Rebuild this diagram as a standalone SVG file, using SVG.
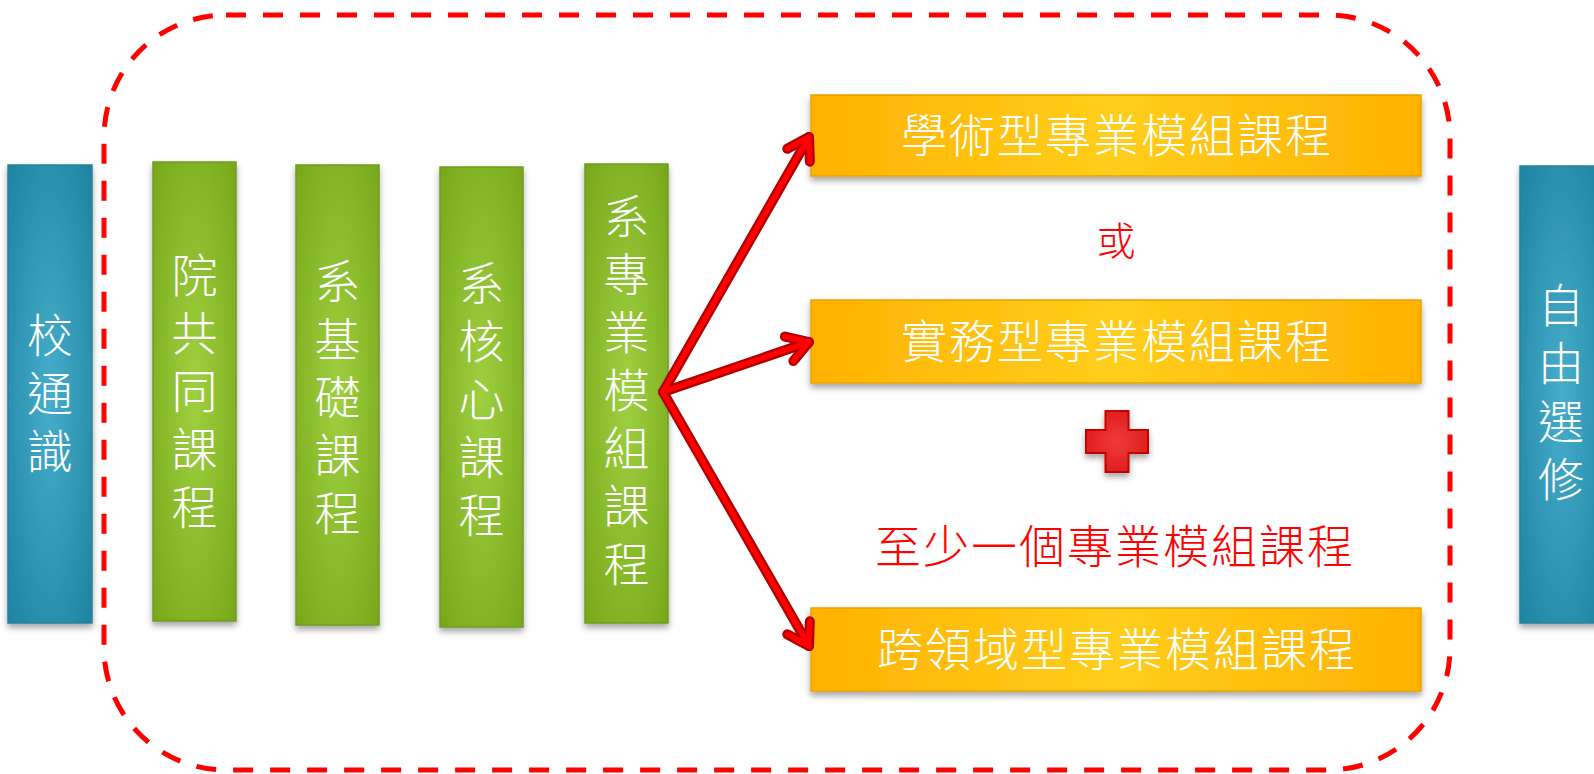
<svg xmlns="http://www.w3.org/2000/svg" width="1594" height="774" viewBox="0 0 1594 774">
<defs>
<radialGradient id="gBlue" cx="0.5" cy="0.5" r="0.7">
<stop offset="0" stop-color="#46ADCC"/><stop offset="1" stop-color="#1D84A1"/>
</radialGradient>
<radialGradient id="gGreen" cx="0.5" cy="0.5" r="0.7">
<stop offset="0" stop-color="#9ED040"/><stop offset="1" stop-color="#77A81A"/>
</radialGradient>
<linearGradient id="gOrange" x1="0" y1="0" x2="1" y2="0">
<stop offset="0" stop-color="#FFB200"/><stop offset="0.5" stop-color="#FFCE1C"/><stop offset="1" stop-color="#FFB200"/>
</linearGradient>
<radialGradient id="gRed" cx="0.5" cy="0.5" r="0.6">
<stop offset="0" stop-color="#F23A3A"/><stop offset="1" stop-color="#DA1A1A"/>
</radialGradient>
<filter id="sh" x="-20%" y="-20%" width="140%" height="140%">
<feDropShadow dx="0" dy="4" stdDeviation="3" flood-color="#000" flood-opacity="0.35"/>
</filter>
<marker id="headDark" markerUnits="userSpaceOnUse" markerWidth="44" markerHeight="44" refX="26" refY="22" orient="auto" overflow="visible">
<path d="M5,9 L26,22 L5,35" fill="none" stroke="#B00000" stroke-width="10" stroke-linecap="round" stroke-linejoin="round"/>
</marker>
<marker id="headRed" markerUnits="userSpaceOnUse" markerWidth="44" markerHeight="44" refX="26" refY="22" orient="auto" overflow="visible">
<path d="M5,9 L26,22 L5,35" fill="none" stroke="#FF0000" stroke-width="5.5" stroke-linecap="round" stroke-linejoin="round"/>
</marker>
</defs>
<style>
.blue{fill:url(#gBlue);stroke:#2B8099;stroke-width:1.5;filter:url(#sh)}
.green{fill:url(#gGreen);stroke:#6F9C22;stroke-width:1.5;filter:url(#sh)}
.orange{fill:url(#gOrange);stroke:#E8A400;stroke-width:1.5;filter:url(#sh)}
.wt{fill:#FFFFFF;font-family:"Noto Sans CJK TC","Noto Sans CJK SC",sans-serif;font-weight:300;font-size:46px;text-anchor:middle}
.rt{fill:#FF0000;font-family:"Noto Sans CJK TC","Noto Sans CJK SC",sans-serif;font-weight:300;text-anchor:middle}
.ot{letter-spacing:2px}
.dk{stroke:#B00000;stroke-width:10;stroke-linecap:round;fill:none}
.br{stroke:#FF0000;stroke-width:5.5;stroke-linecap:round;fill:none}
</style>
<rect width="1594" height="774" fill="#FFFFFF"/>

<g id="scope">
<rect x="104" y="15" width="1346" height="755" rx="122" ry="122" fill="none" stroke="#FF0000" stroke-width="5" stroke-dasharray="20 17"/>
</g>

<g id="node-general">
<rect class="blue" x="8" y="165" width="84" height="458"/>
<text class="wt"><tspan x="50" y="352">校</tspan><tspan x="50" dy="58">通</tspan><tspan x="50" dy="58">識</tspan></text>
</g>

<g id="node-college">
<rect class="green" x="153" y="162" width="83" height="459"/>
<text class="wt"><tspan x="194.5" y="292">院</tspan><tspan x="194.5" dy="58">共</tspan><tspan x="194.5" dy="58">同</tspan><tspan x="194.5" dy="58">課</tspan><tspan x="194.5" dy="58">程</tspan></text>
</g>

<g id="node-basic">
<rect class="green" x="296" y="165" width="83" height="460"/>
<text class="wt"><tspan x="337.5" y="298">系</tspan><tspan x="337.5" dy="58">基</tspan><tspan x="337.5" dy="58">礎</tspan><tspan x="337.5" dy="58">課</tspan><tspan x="337.5" dy="58">程</tspan></text>
</g>

<g id="node-core">
<rect class="green" x="440" y="167" width="83" height="460"/>
<text class="wt"><tspan x="481.5" y="300">系</tspan><tspan x="481.5" dy="58">核</tspan><tspan x="481.5" dy="58">心</tspan><tspan x="481.5" dy="58">課</tspan><tspan x="481.5" dy="58">程</tspan></text>
</g>

<g id="node-module">
<rect class="green" x="585" y="164" width="83" height="459"/>
<text class="wt"><tspan x="626.5" y="233">系</tspan><tspan x="626.5" dy="58">專</tspan><tspan x="626.5" dy="58">業</tspan><tspan x="626.5" dy="58">模</tspan><tspan x="626.5" dy="58">組</tspan><tspan x="626.5" dy="58">課</tspan><tspan x="626.5" dy="58">程</tspan></text>
</g>

<g id="node-academic">
<rect class="orange" x="811" y="95" width="610" height="81"/>
<text class="wt ot" x="1117" y="152">學術型專業模組課程</text>
</g>

<g id="label-or">
<text class="rt" x="1116" y="255" font-size="39">或</text>
</g>

<g id="node-practical">
<rect class="orange" x="811" y="300" width="610" height="83"/>
<text class="wt ot" x="1117" y="358">實務型專業模組課程</text>
</g>

<g id="plus">
<path d="M1105.5,411 H1128.5 V430 H1148 V453 H1128.5 V472 H1105.5 V453 H1086 V430 H1105.5 Z" fill="url(#gRed)" stroke="#C40000" stroke-width="2" filter="url(#sh)"/>
</g>

<g id="label-atleast">
<text class="rt ot" x="1115" y="563" font-size="46">至少一個專業模組課程</text>
</g>

<g id="node-cross">
<rect class="orange" x="811" y="608" width="610" height="83"/>
<text class="wt ot" x="1117" y="666">跨領域型專業模組課程</text>
</g>

<g id="node-elective">
<rect class="blue" x="1520" y="166" width="84" height="457"/>
<text class="wt"><tspan x="1561" y="322">自</tspan><tspan x="1561" dy="58">由</tspan><tspan x="1561" dy="58">選</tspan><tspan x="1561" dy="58">修</tspan></text>
</g>

<g id="connectors">
<line class="dk" x1="663" y1="392" x2="809" y2="137" marker-end="url(#headDark)"/>
<line class="dk" x1="663" y1="392" x2="809" y2="342" marker-end="url(#headDark)"/>
<line class="dk" x1="663" y1="392" x2="809" y2="646" marker-end="url(#headDark)"/>
<line class="br" x1="663" y1="392" x2="809" y2="137" marker-end="url(#headRed)"/>
<line class="br" x1="663" y1="392" x2="809" y2="342" marker-end="url(#headRed)"/>
<line class="br" x1="663" y1="392" x2="809" y2="646" marker-end="url(#headRed)"/>
</g>
</svg>
